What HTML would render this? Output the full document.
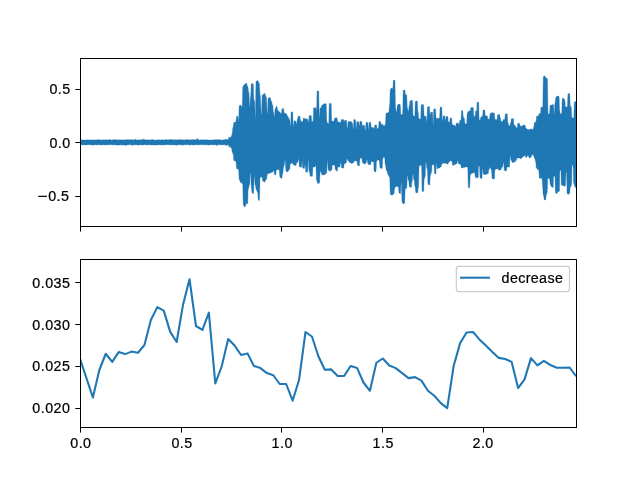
<!DOCTYPE html>
<html><head><meta charset="utf-8"><title>plot</title>
<style>
html,body{margin:0;padding:0;background:#fff;}
body{width:640px;height:480px;overflow:hidden;}
svg{display:block;will-change:transform;}
text{font-family:"Liberation Sans",sans-serif;font-size:14px;fill:#000;stroke:#000;stroke-width:0.22px;}
</style></head><body>
<svg width="640" height="480" viewBox="0 0 640 480">
<rect width="640" height="480" fill="#fff"/>
<defs><clipPath id="c1"><rect x="80.0" y="57.6" width="496.0" height="168.0"/></clipPath><clipPath id="c2"><rect x="80.0" y="259.2" width="496.0" height="168.0"/></clipPath></defs>
<g clip-path="url(#c1)"><path d="M80.00,139.90 L80.25,139.93 L80.50,139.95 L80.75,139.97 L81.00,140.00 L81.25,139.93 L81.50,139.85 L81.75,139.77 L82.00,139.70 L82.25,139.77 L82.50,139.85 L82.75,139.93 L83.00,140.00 L83.25,140.00 L83.50,140.00 L83.75,140.00 L84.00,140.00 L84.25,140.00 L84.50,140.00 L84.75,140.00 L85.00,140.00 L85.25,140.00 L85.50,140.00 L85.75,140.00 L86.00,140.00 L86.25,139.95 L86.50,139.90 L86.75,139.85 L87.00,139.80 L87.25,139.80 L87.50,139.80 L87.75,139.80 L88.00,139.80 L88.25,139.85 L88.50,139.90 L88.75,139.95 L89.00,140.00 L89.25,140.00 L89.50,140.00 L89.75,140.00 L90.00,140.00 L90.25,140.00 L90.50,140.00 L90.75,140.00 L91.00,140.00 L91.25,139.95 L91.50,139.90 L91.75,139.85 L92.00,139.80 L92.25,139.80 L92.50,139.80 L92.75,139.80 L93.00,139.80 L93.25,139.85 L93.50,139.90 L93.75,139.95 L94.00,140.00 L94.25,140.00 L94.50,140.00 L94.75,140.00 L95.00,140.00 L95.25,139.93 L95.50,139.85 L95.75,139.77 L96.00,139.70 L96.25,139.72 L96.50,139.75 L96.75,139.78 L97.00,139.80 L97.25,139.85 L97.50,139.90 L97.75,139.95 L98.00,140.00 L98.25,139.86 L98.50,139.72 L98.75,139.59 L99.00,139.45 L99.25,139.59 L99.50,139.72 L99.75,139.86 L100.00,140.00 L100.25,140.00 L100.50,140.00 L100.75,140.00 L101.00,140.00 L101.25,140.00 L101.50,140.00 L101.75,140.00 L102.00,140.00 L102.25,139.90 L102.50,139.80 L102.75,139.70 L103.00,139.60 L103.25,139.70 L103.50,139.80 L103.75,139.90 L104.00,140.00 L104.25,139.95 L104.50,139.90 L104.75,139.85 L105.00,139.80 L105.25,139.80 L105.50,139.80 L105.75,139.80 L106.00,139.80 L106.25,139.80 L106.50,139.80 L106.75,139.80 L107.00,139.80 L107.25,139.85 L107.50,139.90 L107.75,139.95 L108.00,140.00 L108.25,139.90 L108.50,139.80 L108.75,139.70 L109.00,139.60 L109.25,139.61 L109.50,139.47 L109.75,139.34 L110.00,139.20 L110.25,139.44 L110.50,139.68 L110.75,139.91 L111.00,140.00 L111.25,140.00 L111.50,140.00 L111.75,140.00 L112.00,140.00 L112.25,139.90 L112.50,139.80 L112.75,139.70 L113.00,139.60 L113.25,139.65 L113.50,139.70 L113.75,139.75 L114.00,139.80 L114.25,139.71 L114.50,139.62 L114.75,139.54 L115.00,139.45 L115.25,139.54 L115.50,139.62 L115.75,139.71 L116.00,139.80 L116.25,139.80 L116.50,139.80 L116.75,139.80 L117.00,139.80 L117.25,139.85 L117.50,139.90 L117.75,139.95 L118.00,140.00 L118.25,139.93 L118.50,139.85 L118.75,139.77 L119.00,139.70 L119.25,139.77 L119.50,139.85 L119.75,139.93 L120.00,140.00 L120.25,139.95 L120.50,139.90 L120.75,139.85 L121.00,139.80 L121.25,139.75 L121.50,139.70 L121.75,139.65 L122.00,139.60 L122.25,139.70 L122.50,139.80 L122.75,139.90 L123.00,140.00 L123.25,139.97 L123.50,139.95 L123.75,139.93 L124.00,139.90 L124.25,139.85 L124.50,139.80 L124.75,139.75 L125.00,139.70 L125.25,139.77 L125.50,139.85 L125.75,139.93 L126.00,140.00 L126.25,139.86 L126.50,139.72 L126.75,139.59 L127.00,139.45 L127.25,139.49 L127.50,139.52 L127.75,139.56 L128.00,139.60 L128.25,139.65 L128.50,139.70 L128.75,139.75 L129.00,139.80 L129.25,139.75 L129.50,139.70 L129.75,139.65 L130.00,139.60 L130.25,139.65 L130.50,139.70 L130.75,139.75 L131.00,139.80 L131.25,139.78 L131.50,139.75 L131.75,139.72 L132.00,139.70 L132.25,139.70 L132.50,139.70 L132.75,139.70 L133.00,139.70 L133.25,139.77 L133.50,139.85 L133.75,139.93 L134.00,140.00 L134.25,139.90 L134.50,139.80 L134.75,139.66 L135.00,139.34 L135.25,139.17 L135.50,139.00 L135.75,139.27 L136.00,139.54 L136.25,139.81 L136.50,139.90 L136.75,139.95 L137.00,140.00 L137.25,140.00 L137.50,140.00 L137.75,140.00 L138.00,140.00 L138.25,139.95 L138.50,139.90 L138.75,139.85 L139.00,139.80 L139.25,139.80 L139.50,139.80 L139.75,139.80 L140.00,139.80 L140.25,139.80 L140.50,139.80 L140.75,139.80 L141.00,139.80 L141.25,139.83 L141.50,139.85 L141.75,139.88 L142.00,139.90 L142.25,139.74 L142.50,139.41 L142.75,139.08 L143.00,138.75 L143.25,139.01 L143.50,139.26 L143.75,139.52 L144.00,139.60 L144.25,139.56 L144.50,139.52 L144.75,139.49 L145.00,139.45 L145.25,139.59 L145.50,139.72 L145.75,139.86 L146.00,140.00 L146.25,140.00 L146.50,140.00 L146.75,140.00 L147.00,140.00 L147.25,139.90 L147.50,139.80 L147.75,139.70 L148.00,139.60 L148.25,139.70 L148.50,139.80 L148.75,139.90 L149.00,140.00 L149.25,139.97 L149.50,139.95 L149.75,139.93 L150.00,139.90 L150.25,139.82 L150.50,139.75 L150.75,139.68 L151.00,139.60 L151.25,139.65 L151.50,139.70 L151.75,139.75 L152.00,139.80 L152.25,139.71 L152.50,139.62 L152.75,139.54 L153.00,139.45 L153.25,139.59 L153.50,139.72 L153.75,139.86 L154.00,140.00 L154.25,140.00 L154.50,140.00 L154.75,140.00 L155.00,140.00 L155.25,140.00 L155.50,140.00 L155.75,140.00 L156.00,140.00 L156.25,140.00 L156.50,140.00 L156.75,140.00 L157.00,140.00 L157.25,139.93 L157.50,139.85 L157.75,139.77 L158.00,139.70 L158.25,139.72 L158.50,139.75 L158.75,139.78 L159.00,139.80 L159.25,139.83 L159.50,139.85 L159.75,139.88 L160.00,139.90 L160.25,139.90 L160.50,139.90 L160.75,139.90 L161.00,139.90 L161.25,139.82 L161.50,139.75 L161.75,139.68 L162.00,139.60 L162.25,139.65 L162.50,139.70 L162.75,139.75 L163.00,139.80 L163.25,139.85 L163.50,139.90 L163.75,139.95 L164.00,140.00 L164.25,139.95 L164.50,139.90 L164.75,139.85 L165.00,139.80 L165.25,139.75 L165.50,139.70 L165.75,139.65 L166.00,139.60 L166.25,139.60 L166.50,139.60 L166.75,139.60 L167.00,139.60 L167.25,139.65 L167.50,139.70 L167.75,139.75 L168.00,139.80 L168.25,139.80 L168.50,139.80 L168.75,139.80 L169.00,139.80 L169.25,139.75 L169.50,139.70 L169.75,139.65 L170.00,139.60 L170.25,139.56 L170.50,139.52 L170.75,139.49 L171.00,139.45 L171.25,139.45 L171.50,139.45 L171.75,139.45 L172.00,139.45 L172.25,139.59 L172.50,139.72 L172.75,139.86 L173.00,140.00 L173.25,139.93 L173.50,139.85 L173.75,139.77 L174.00,139.70 L174.25,139.67 L174.50,139.65 L174.75,139.62 L175.00,139.60 L175.25,139.70 L175.50,139.80 L175.75,139.90 L176.00,140.00 L176.25,139.95 L176.50,139.90 L176.75,139.85 L177.00,139.80 L177.25,139.75 L177.50,139.70 L177.75,139.65 L178.00,139.60 L178.25,139.68 L178.50,139.75 L178.75,139.82 L179.00,139.90 L179.25,139.82 L179.50,139.75 L179.75,139.68 L180.00,139.60 L180.25,139.60 L180.50,139.60 L180.75,139.60 L181.00,139.60 L181.25,139.65 L181.50,139.70 L181.75,139.75 L182.00,139.80 L182.25,139.80 L182.50,139.80 L182.75,139.80 L183.00,139.80 L183.25,139.85 L183.50,139.90 L183.75,139.95 L184.00,140.00 L184.25,140.00 L184.50,140.00 L184.75,140.00 L185.00,140.00 L185.25,139.86 L185.50,139.72 L185.75,139.59 L186.00,139.45 L186.25,139.49 L186.50,139.52 L186.75,139.56 L187.00,139.60 L187.25,139.65 L187.50,139.70 L187.75,139.75 L188.00,139.80 L188.25,139.75 L188.50,139.70 L188.75,139.65 L189.00,139.60 L189.25,139.65 L189.50,139.70 L189.75,139.75 L190.00,139.80 L190.25,139.85 L190.50,139.90 L190.75,139.95 L191.00,140.00 L191.25,139.86 L191.50,139.72 L191.75,139.59 L192.00,139.45 L192.25,139.54 L192.50,139.62 L192.75,139.71 L193.00,139.80 L193.25,139.71 L193.50,139.62 L193.75,139.54 L194.00,139.45 L194.25,139.59 L194.50,139.72 L194.75,139.86 L195.00,140.00 L195.25,139.90 L195.50,139.80 L195.75,139.70 L196.00,139.60 L196.25,139.60 L196.50,139.44 L196.75,139.03 L197.00,138.62 L197.25,138.34 L197.50,138.71 L197.75,139.08 L198.00,139.45 L198.25,139.59 L198.50,139.72 L198.75,139.86 L199.00,140.00 L199.25,140.00 L199.50,140.00 L199.75,140.00 L200.00,140.00 L200.25,139.95 L200.50,139.90 L200.75,139.85 L201.00,139.80 L201.25,139.83 L201.50,139.85 L201.75,139.88 L202.00,139.90 L202.25,139.82 L202.50,139.75 L202.75,139.68 L203.00,139.60 L203.25,139.68 L203.50,139.75 L203.75,139.82 L204.00,139.90 L204.25,139.93 L204.50,139.95 L204.75,139.97 L205.00,140.00 L205.25,139.90 L205.50,139.80 L205.75,139.70 L206.00,139.60 L206.25,139.62 L206.50,139.65 L206.75,139.67 L207.00,139.70 L207.25,139.77 L207.50,139.85 L207.75,139.93 L208.00,140.00 L208.25,140.00 L208.50,140.00 L208.75,140.00 L209.00,140.00 L209.25,140.00 L209.50,140.00 L209.75,140.00 L210.00,140.00 L210.25,140.00 L210.50,140.00 L210.75,140.00 L211.00,140.00 L211.25,140.00 L211.50,140.00 L211.75,140.00 L212.00,140.00 L212.25,140.00 L212.50,140.00 L212.75,140.00 L213.00,140.00 L213.25,139.93 L213.50,139.85 L213.75,139.77 L214.00,139.70 L214.25,139.72 L214.50,139.75 L214.75,139.78 L215.00,139.80 L215.25,139.78 L215.50,139.75 L215.75,139.72 L216.00,139.70 L216.25,139.72 L216.50,139.55 L216.75,139.38 L217.00,139.20 L217.25,139.42 L217.50,139.65 L217.75,139.88 L218.00,139.90 L218.25,139.79 L218.50,139.68 L218.75,139.56 L219.00,139.45 L219.25,139.51 L219.50,139.57 L219.75,139.64 L220.00,139.70 L220.25,139.77 L220.50,139.85 L220.75,139.93 L221.00,140.00 L221.25,139.97 L221.50,139.95 L221.75,139.93 L222.00,139.90 L222.25,139.90 L222.50,139.90 L222.75,139.90 L223.00,139.90 L223.25,139.85 L223.50,139.80 L223.75,139.75 L224.00,139.70 L224.25,139.67 L224.50,139.65 L224.75,139.62 L225.00,139.60 L225.25,139.61 L225.50,139.38 L225.75,139.14 L226.00,138.90 L226.25,139.16 L226.50,139.43 L226.75,139.69 L227.00,139.70 L227.25,139.70 L227.50,139.70 L227.75,139.70 L228.00,139.25 L228.25,139.15 L228.50,138.40 L228.75,137.53 L229.00,136.65 L229.25,136.90 L229.50,137.40 L229.75,137.90 L230.00,137.91 L230.25,137.55 L230.50,137.19 L230.75,136.82 L231.00,136.46 L231.25,136.38 L231.50,136.38 L231.75,135.06 L232.00,133.75 L232.25,133.42 L232.50,130.62 L232.75,127.83 L233.00,127.50 L233.25,126.91 L233.50,124.36 L233.75,122.50 L234.00,122.50 L234.25,122.50 L234.50,122.37 L234.75,122.22 L235.00,122.08 L235.25,121.93 L235.50,121.88 L235.75,121.88 L236.00,121.57 L236.25,119.06 L236.50,116.55 L236.75,116.25 L237.00,116.25 L237.25,116.25 L237.50,116.25 L237.75,116.25 L238.00,116.25 L238.25,119.38 L238.50,122.50 L238.75,119.08 L239.00,109.04 L239.25,105.62 L239.50,105.62 L239.75,105.42 L240.00,105.20 L240.25,105.00 L240.50,105.00 L240.75,105.00 L241.00,105.38 L241.25,105.94 L241.50,106.50 L241.75,106.88 L242.00,106.88 L242.25,105.77 L242.50,96.56 L242.75,87.35 L243.00,86.25 L243.25,86.25 L243.50,85.87 L243.75,85.31 L244.00,84.75 L244.25,84.38 L244.50,84.38 L244.75,84.38 L245.00,84.27 L245.25,83.97 L245.50,83.68 L245.75,83.38 L246.00,83.12 L246.25,83.12 L246.50,83.12 L246.75,83.57 L247.00,84.69 L247.25,85.80 L247.50,86.25 L247.75,86.25 L248.00,87.14 L248.25,89.38 L248.50,91.61 L248.75,92.50 L249.00,92.50 L249.25,98.09 L249.50,105.74 L249.75,107.50 L250.00,105.35 L250.25,99.03 L250.50,96.88 L250.75,95.33 L251.00,88.64 L251.25,83.75 L251.50,83.75 L251.75,83.75 L252.00,83.75 L252.25,83.75 L252.50,83.75 L252.75,83.75 L253.00,83.75 L253.25,83.75 L253.50,87.04 L253.75,96.71 L254.00,100.00 L254.25,100.38 L254.50,101.50 L254.75,101.88 L255.00,111.25 L255.25,120.62 L255.50,112.66 L255.75,89.22 L256.00,81.25 L256.25,81.25 L256.50,81.15 L256.75,80.98 L257.00,80.81 L257.25,80.64 L257.50,80.62 L257.75,80.62 L258.00,80.67 L258.25,81.36 L258.50,82.05 L258.75,82.73 L259.00,83.12 L259.25,83.12 L259.50,84.45 L259.75,90.18 L260.00,94.38 L260.25,94.38 L260.50,97.23 L260.75,104.38 L261.00,111.52 L261.25,114.38 L261.50,114.38 L261.75,107.16 L262.00,97.27 L262.25,95.00 L262.50,95.00 L262.75,94.99 L263.00,94.70 L263.25,94.40 L263.50,94.10 L263.75,93.80 L264.00,93.51 L264.25,93.50 L264.50,93.50 L264.75,93.50 L265.00,93.78 L265.25,94.58 L265.50,95.39 L265.75,96.19 L266.00,96.88 L266.25,96.88 L266.50,96.88 L266.75,103.16 L267.00,111.77 L267.25,113.75 L267.50,112.91 L267.75,105.94 L268.00,98.96 L268.25,98.12 L268.50,98.12 L268.75,98.07 L269.00,97.92 L269.25,97.78 L269.50,97.63 L269.75,97.50 L270.00,97.50 L270.25,97.50 L270.50,98.04 L270.75,99.38 L271.00,100.71 L271.25,101.25 L271.50,101.25 L271.75,101.79 L272.00,103.12 L272.25,104.46 L272.50,105.00 L272.75,105.00 L273.00,107.79 L273.25,111.62 L273.50,112.50 L273.75,113.39 L274.00,115.99 L274.25,116.88 L274.50,115.92 L274.75,111.78 L275.00,108.75 L275.25,108.75 L275.50,108.70 L275.75,108.02 L276.00,107.33 L276.25,106.64 L276.50,106.25 L276.75,106.25 L277.00,106.25 L277.25,107.66 L277.50,109.22 L277.75,110.62 L278.00,110.62 L278.25,110.62 L278.50,110.88 L278.75,111.25 L279.00,111.62 L279.25,111.88 L279.50,111.88 L279.75,111.88 L280.00,112.25 L280.25,112.81 L280.50,113.37 L280.75,113.75 L281.00,113.75 L281.25,113.75 L281.50,112.14 L281.75,110.36 L282.00,108.75 L282.25,108.75 L282.50,108.75 L282.75,108.67 L283.00,108.58 L283.25,108.50 L283.50,108.50 L283.75,109.44 L284.00,112.19 L284.25,113.12 L284.50,113.12 L284.75,113.14 L285.00,113.27 L285.25,113.40 L285.50,113.54 L285.75,113.67 L286.00,113.75 L286.25,113.75 L286.50,113.75 L286.75,114.11 L287.00,115.00 L287.25,115.89 L287.50,116.25 L287.75,116.25 L288.00,116.25 L288.25,116.88 L288.50,117.63 L288.75,118.37 L289.00,119.11 L289.25,119.38 L289.50,119.38 L289.75,119.74 L290.00,122.81 L290.25,125.88 L290.50,126.25 L290.75,121.63 L291.00,111.88 L291.25,111.88 L291.50,111.88 L291.75,111.88 L292.00,111.88 L292.25,111.88 L292.50,111.88 L292.75,111.88 L293.00,121.63 L293.25,126.25 L293.50,126.25 L293.75,124.44 L294.00,122.43 L294.25,120.62 L294.50,120.62 L294.75,120.62 L295.00,120.83 L295.25,121.05 L295.50,121.25 L295.75,121.25 L296.00,122.05 L296.25,123.75 L296.50,123.75 L296.75,123.04 L297.00,121.25 L297.25,119.46 L297.50,118.75 L297.75,118.75 L298.00,116.25 L298.25,116.25 L298.50,116.25 L298.75,116.25 L299.00,116.25 L299.25,116.25 L299.50,116.25 L299.75,116.25 L300.00,116.25 L300.25,119.22 L300.50,120.62 L300.75,120.62 L301.00,120.73 L301.25,121.03 L301.50,121.32 L301.75,121.62 L302.00,121.88 L302.25,121.88 L302.50,121.88 L302.75,121.34 L303.00,120.00 L303.25,118.66 L303.50,118.12 L303.75,118.12 L304.00,118.12 L304.25,118.25 L304.50,118.40 L304.75,118.55 L305.00,118.70 L305.25,118.75 L305.50,118.75 L305.75,118.75 L306.00,118.77 L306.25,118.83 L306.50,118.89 L306.75,118.95 L307.00,119.00 L307.25,119.00 L307.50,119.00 L307.75,120.07 L308.00,121.54 L308.25,121.88 L308.50,121.88 L308.75,119.87 L309.00,117.63 L309.25,115.62 L309.50,115.62 L309.75,115.62 L310.00,115.62 L310.25,115.62 L310.50,115.62 L310.75,115.62 L311.00,115.62 L311.25,115.62 L311.50,117.95 L311.75,121.14 L312.00,121.88 L312.25,121.84 L312.50,121.56 L312.75,121.28 L313.00,121.25 L313.25,117.03 L313.50,108.12 L313.75,108.12 L314.00,108.11 L314.25,107.94 L314.50,107.77 L314.75,107.60 L315.00,107.50 L315.25,107.50 L315.50,107.50 L315.75,108.30 L316.00,109.20 L316.25,110.00 L316.50,110.00 L316.75,103.89 L317.00,91.00 L317.25,91.00 L317.50,91.00 L317.75,91.00 L318.00,91.00 L318.25,91.00 L318.50,91.00 L318.75,91.00 L319.00,104.25 L319.25,117.50 L319.50,117.00 L319.75,112.81 L320.00,108.63 L320.25,108.12 L320.50,108.12 L320.75,108.04 L321.00,107.38 L321.25,106.73 L321.50,106.07 L321.75,105.41 L322.00,105.00 L322.25,105.00 L322.50,105.00 L322.75,105.00 L323.00,104.75 L323.25,104.45 L323.50,104.15 L323.75,103.85 L324.00,103.75 L324.25,103.75 L324.50,103.75 L324.75,103.75 L325.00,103.75 L325.25,103.75 L325.50,103.75 L325.75,103.75 L326.00,103.75 L326.25,103.75 L326.50,110.73 L326.75,120.30 L327.00,122.50 L327.25,122.50 L327.50,122.70 L327.75,123.04 L328.00,123.38 L328.25,123.73 L328.50,123.75 L328.75,123.75 L329.00,110.01 L329.25,103.50 L329.50,103.50 L329.75,103.50 L330.00,103.50 L330.25,103.50 L330.50,103.50 L330.75,103.50 L331.00,103.50 L331.25,103.50 L331.50,115.54 L331.75,121.25 L332.00,121.25 L332.25,121.25 L332.50,121.25 L332.75,121.25 L333.00,121.25 L333.25,121.25 L333.50,121.25 L333.75,121.25 L334.00,120.80 L334.25,119.69 L334.50,118.57 L334.75,118.12 L335.00,118.12 L335.25,118.12 L335.50,118.05 L335.75,117.96 L336.00,117.87 L336.25,117.78 L336.50,117.75 L336.75,117.75 L337.00,117.75 L337.25,119.08 L337.50,120.55 L337.75,121.88 L338.00,121.88 L338.25,121.88 L338.50,121.88 L338.75,121.96 L339.00,122.08 L339.25,122.19 L339.50,122.30 L339.75,122.41 L340.00,122.50 L340.25,122.50 L340.50,122.50 L340.75,122.33 L341.00,120.94 L341.25,119.54 L341.50,119.38 L341.75,119.38 L342.00,119.38 L342.25,119.38 L342.50,119.38 L342.75,119.38 L343.00,119.38 L343.25,119.38 L343.50,119.48 L343.75,120.31 L344.00,121.15 L344.25,121.25 L344.50,120.93 L344.75,120.25 L345.00,120.25 L345.25,120.25 L345.50,120.25 L345.75,120.25 L346.00,120.25 L346.25,120.25 L346.50,120.25 L346.75,122.78 L347.00,128.12 L347.25,128.12 L347.50,127.18 L347.75,124.81 L348.00,122.45 L348.25,121.50 L348.50,121.50 L348.75,121.50 L349.00,121.50 L349.25,121.50 L349.50,121.50 L349.75,121.50 L350.00,121.50 L350.25,121.50 L350.50,121.50 L350.75,121.50 L351.00,121.50 L351.25,121.50 L351.50,121.73 L351.75,122.31 L352.00,122.89 L352.25,123.12 L352.50,123.12 L352.75,125.45 L353.00,128.64 L353.25,129.38 L353.50,126.16 L353.75,119.38 L354.00,119.38 L354.25,119.38 L354.50,119.49 L354.75,119.59 L355.00,119.69 L355.25,119.75 L355.50,119.75 L355.75,122.64 L356.00,128.75 L356.25,128.75 L356.50,126.05 L356.75,122.35 L357.00,121.50 L357.25,121.50 L357.50,121.56 L357.75,121.66 L358.00,121.76 L358.25,121.87 L358.50,121.88 L358.75,121.88 L359.00,124.84 L359.25,126.25 L359.50,125.66 L359.75,123.11 L360.00,121.25 L360.25,121.25 L360.50,121.25 L360.75,121.32 L361.00,121.39 L361.25,121.46 L361.50,121.50 L361.75,121.50 L362.00,123.03 L362.25,126.25 L362.50,126.25 L362.75,125.88 L363.00,125.37 L363.25,125.25 L363.50,125.25 L363.75,125.25 L364.00,125.25 L364.25,125.25 L364.50,125.25 L364.75,126.34 L365.00,129.54 L365.25,130.62 L365.50,130.18 L365.75,126.44 L366.00,122.70 L366.25,122.25 L366.50,122.25 L366.75,122.30 L367.00,122.38 L367.25,122.45 L367.50,122.50 L367.75,122.50 L368.00,124.71 L368.25,129.38 L368.50,129.38 L368.75,126.72 L369.00,123.09 L369.25,122.25 L369.50,122.25 L369.75,122.25 L370.00,122.25 L370.25,122.25 L370.50,122.25 L370.75,122.25 L371.00,124.88 L371.25,127.50 L371.50,127.50 L371.75,127.50 L372.00,127.50 L372.25,127.50 L372.50,127.50 L372.75,127.50 L373.00,127.50 L373.25,127.50 L373.50,127.75 L373.75,128.12 L374.00,128.75 L374.25,128.55 L374.50,126.88 L374.75,125.20 L375.00,125.00 L375.25,125.00 L375.50,125.00 L375.75,125.00 L376.00,125.00 L376.25,125.00 L376.50,125.00 L376.75,126.21 L377.00,128.75 L377.25,128.75 L377.50,128.66 L377.75,128.44 L378.00,128.21 L378.25,128.12 L378.50,128.12 L378.75,123.63 L379.00,121.50 L379.25,121.50 L379.50,121.50 L379.75,121.50 L380.00,121.50 L380.25,121.50 L380.50,121.50 L380.75,122.08 L381.00,123.79 L381.25,124.38 L381.50,124.38 L381.75,124.38 L382.00,124.38 L382.25,124.38 L382.50,124.38 L382.75,124.38 L383.00,124.38 L383.25,124.98 L383.50,125.65 L383.75,126.25 L384.00,126.25 L384.25,126.25 L384.50,125.65 L384.75,124.98 L385.00,124.38 L385.25,124.38 L385.50,123.05 L385.75,117.32 L386.00,113.12 L386.25,113.12 L386.50,113.12 L386.75,113.10 L387.00,113.00 L387.25,112.89 L387.50,112.79 L387.75,112.68 L388.00,112.57 L388.25,112.50 L388.50,112.50 L388.75,112.50 L389.00,111.55 L389.25,107.40 L389.50,104.38 L389.75,104.38 L390.00,94.20 L390.25,89.38 L390.50,89.38 L390.75,88.97 L391.00,88.53 L391.25,88.12 L391.50,88.12 L391.75,88.12 L392.00,88.33 L392.25,88.55 L392.50,88.75 L392.75,88.75 L393.00,86.02 L393.25,80.25 L393.50,80.25 L393.75,80.25 L394.00,80.25 L394.25,80.25 L394.50,80.25 L394.75,80.25 L395.00,80.25 L395.25,94.19 L395.50,108.12 L395.75,108.33 L396.00,110.00 L396.25,111.67 L396.50,111.88 L396.75,111.51 L397.00,108.44 L397.25,105.37 L397.50,105.00 L397.75,105.00 L398.00,104.68 L398.25,104.32 L398.50,104.00 L398.75,104.00 L399.00,104.00 L399.25,104.08 L399.50,104.19 L399.75,104.30 L400.00,104.38 L400.25,104.38 L400.50,107.59 L400.75,114.38 L401.00,114.38 L401.25,114.38 L401.50,114.38 L401.75,114.38 L402.00,114.38 L402.25,114.38 L402.50,114.38 L402.75,109.44 L403.00,94.93 L403.25,90.00 L403.50,90.00 L403.75,90.00 L404.00,90.00 L404.25,90.00 L404.50,90.00 L404.75,90.00 L405.00,90.89 L405.25,93.49 L405.50,94.38 L405.75,94.38 L406.00,94.58 L406.25,94.80 L406.50,95.00 L406.75,95.00 L407.00,101.25 L407.25,107.50 L407.50,107.51 L407.75,109.00 L408.00,110.49 L408.25,111.25 L408.50,111.25 L408.75,109.15 L409.00,106.29 L409.25,105.62 L409.50,105.36 L409.75,103.12 L410.00,100.89 L410.25,100.62 L410.50,100.62 L410.75,100.62 L411.00,100.62 L411.25,100.62 L411.50,100.62 L411.75,100.62 L412.00,100.62 L412.25,100.62 L412.50,100.62 L412.75,105.45 L413.00,115.62 L413.25,115.62 L413.50,115.64 L413.75,115.81 L414.00,115.98 L414.25,116.15 L414.50,116.25 L414.75,116.25 L415.00,108.75 L415.25,101.25 L415.50,101.25 L415.75,101.24 L416.00,101.18 L416.25,101.12 L416.50,101.07 L416.75,101.01 L417.00,101.00 L417.25,101.00 L417.50,103.20 L417.75,109.67 L418.00,111.88 L418.25,112.24 L418.50,115.31 L418.75,118.38 L419.00,118.75 L419.25,118.75 L419.50,118.88 L419.75,119.06 L420.00,119.25 L420.25,119.38 L420.50,119.38 L420.75,116.42 L421.00,107.71 L421.25,104.75 L421.50,104.75 L421.75,104.75 L422.00,104.70 L422.25,104.65 L422.50,104.60 L422.75,104.55 L423.00,104.50 L423.25,104.50 L423.50,104.50 L423.75,106.88 L424.00,113.87 L424.25,116.25 L424.50,116.25 L424.75,116.25 L425.00,116.25 L425.25,116.25 L425.50,116.25 L425.75,116.25 L426.00,116.25 L426.25,118.35 L426.50,121.21 L426.75,121.88 L427.00,118.84 L427.25,109.91 L427.50,106.88 L427.75,106.88 L428.00,106.84 L428.25,106.75 L428.50,106.67 L428.75,106.58 L429.00,106.50 L429.25,106.50 L429.50,106.50 L429.75,112.27 L430.00,115.00 L430.25,114.68 L430.50,113.27 L430.75,112.25 L431.00,112.25 L431.25,112.25 L431.50,112.18 L431.75,112.11 L432.00,112.04 L432.25,112.00 L432.50,112.00 L432.75,115.98 L433.00,124.38 L433.25,124.38 L433.50,113.94 L433.75,109.00 L434.00,109.00 L434.25,108.97 L434.50,108.91 L434.75,108.84 L435.00,108.78 L435.25,108.75 L435.50,108.75 L435.75,111.76 L436.00,118.12 L436.25,118.12 L436.50,118.13 L436.75,118.24 L437.00,118.34 L437.25,118.44 L437.50,118.50 L437.75,118.50 L438.00,118.50 L438.25,118.47 L438.50,118.38 L438.75,118.29 L439.00,118.20 L439.25,118.12 L439.50,118.12 L439.75,115.92 L440.00,107.25 L440.25,107.25 L440.50,107.22 L440.75,107.16 L441.00,107.09 L441.25,107.03 L441.50,107.00 L441.75,107.00 L442.00,111.58 L442.25,121.25 L442.50,121.25 L442.75,119.80 L443.00,117.45 L443.25,116.00 L443.50,116.00 L443.75,115.96 L444.00,115.84 L444.25,115.72 L444.50,115.62 L444.75,115.62 L445.00,118.12 L445.25,120.62 L445.50,120.40 L445.75,118.56 L446.00,116.72 L446.25,116.50 L446.50,116.50 L446.75,116.45 L447.00,116.38 L447.25,116.30 L447.50,116.25 L447.75,116.25 L448.00,118.06 L448.25,121.88 L448.50,121.88 L448.75,121.88 L449.00,121.99 L449.25,122.09 L449.50,122.19 L449.75,122.25 L450.00,118.12 L450.25,118.12 L450.50,118.05 L450.75,117.94 L451.00,117.83 L451.25,117.75 L451.50,117.75 L451.75,119.17 L452.00,123.33 L452.25,124.75 L452.50,124.75 L452.75,124.76 L453.00,124.87 L453.25,124.97 L453.50,125.08 L453.75,125.18 L454.00,125.25 L454.25,125.25 L454.50,125.25 L454.75,125.39 L455.00,125.75 L455.25,126.11 L455.50,126.25 L455.75,126.25 L456.00,125.09 L456.25,123.49 L456.50,123.12 L456.75,123.12 L457.00,123.12 L457.25,123.12 L457.50,123.12 L457.75,123.12 L458.00,123.12 L458.25,123.12 L458.50,123.73 L458.75,124.56 L459.00,124.75 L459.25,123.92 L459.50,121.46 L459.75,120.62 L460.00,120.62 L460.25,120.42 L460.50,120.20 L460.75,120.00 L461.00,120.00 L461.25,115.31 L461.50,110.62 L461.75,110.62 L462.00,110.62 L462.25,110.62 L462.50,110.62 L462.75,110.62 L463.00,113.75 L463.25,116.88 L463.50,116.88 L463.75,117.53 L464.00,118.17 L464.25,118.50 L464.50,118.50 L464.75,122.06 L465.00,123.75 L465.25,123.75 L465.50,123.80 L465.75,123.88 L466.00,123.95 L466.25,124.00 L466.50,124.00 L466.75,121.80 L467.00,115.33 L467.25,113.12 L467.50,113.12 L467.75,112.52 L468.00,111.85 L468.25,111.25 L468.50,111.25 L468.75,111.25 L469.00,111.20 L469.25,111.12 L469.50,111.05 L469.75,111.00 L470.00,111.00 L470.25,110.81 L470.50,109.25 L470.75,107.69 L471.00,107.50 L471.25,107.50 L471.50,107.50 L471.75,107.50 L472.00,107.50 L472.25,107.50 L472.50,107.50 L472.75,107.50 L473.00,107.50 L473.25,107.50 L473.50,110.99 L473.75,115.77 L474.00,116.88 L474.25,116.84 L474.50,116.56 L474.75,116.28 L475.00,116.25 L475.25,114.64 L475.50,111.25 L475.75,111.25 L476.00,111.20 L476.25,111.10 L476.50,111.00 L476.75,111.00 L477.00,102.25 L477.25,102.25 L477.50,102.25 L477.75,102.25 L478.00,102.25 L478.25,102.25 L478.50,102.25 L478.75,102.25 L479.00,116.41 L479.25,120.00 L479.50,120.00 L479.75,120.00 L480.00,120.00 L480.25,119.83 L480.50,118.44 L480.75,117.04 L481.00,116.88 L481.25,116.88 L481.50,116.75 L481.75,116.56 L482.00,116.38 L482.25,116.25 L482.50,116.25 L482.75,114.24 L483.00,110.00 L483.25,110.00 L483.50,110.00 L483.75,110.00 L484.00,110.00 L484.25,110.00 L484.50,110.00 L484.75,110.00 L485.00,112.81 L485.25,115.62 L485.50,115.62 L485.75,115.65 L486.00,115.73 L486.25,115.81 L486.50,115.90 L486.75,115.98 L487.00,116.00 L487.25,116.00 L487.50,116.40 L487.75,118.12 L488.00,119.38 L488.25,119.38 L488.50,119.29 L488.75,119.06 L489.00,118.84 L489.25,118.75 L489.50,118.75 L489.75,116.79 L490.00,114.12 L490.25,113.50 L490.50,113.50 L490.75,113.38 L491.00,113.18 L491.25,112.97 L491.50,112.76 L491.75,112.75 L492.00,112.75 L492.25,112.75 L492.50,112.76 L492.75,112.81 L493.00,112.85 L493.25,112.90 L493.50,112.94 L493.75,112.99 L494.00,113.00 L494.25,113.00 L494.50,113.00 L494.75,117.33 L495.00,119.38 L495.25,119.38 L495.50,119.41 L495.75,119.50 L496.00,119.58 L496.25,119.67 L496.50,119.75 L496.75,119.75 L497.00,119.75 L497.25,117.89 L497.50,115.34 L497.75,114.75 L498.00,114.75 L498.25,114.72 L498.50,114.66 L498.75,114.59 L499.00,114.53 L499.25,114.50 L499.50,114.50 L499.75,115.16 L500.00,117.09 L500.25,117.75 L500.50,118.46 L500.75,120.54 L501.00,121.25 L501.25,121.25 L501.50,121.30 L501.75,121.38 L502.00,121.45 L502.25,121.50 L502.50,121.50 L502.75,121.39 L503.00,120.44 L503.25,119.49 L503.50,119.38 L503.75,119.38 L504.00,119.38 L504.25,119.38 L504.50,119.38 L504.75,119.38 L505.00,116.69 L505.25,114.00 L505.50,114.00 L505.75,113.99 L506.00,113.93 L506.25,113.88 L506.50,113.82 L506.75,113.76 L507.00,113.75 L507.25,113.75 L507.50,118.00 L507.75,122.25 L508.00,122.40 L508.25,123.62 L508.50,124.85 L508.75,125.00 L509.00,125.05 L509.25,125.50 L509.50,125.95 L509.75,126.00 L510.00,125.66 L510.25,124.20 L510.50,123.12 L510.75,123.12 L511.00,121.50 L511.25,119.26 L511.50,118.75 L511.75,118.75 L512.00,118.73 L512.25,118.67 L512.50,118.61 L512.75,118.55 L513.00,118.50 L513.25,118.50 L513.50,118.50 L513.75,122.74 L514.00,124.75 L514.25,124.75 L514.50,124.95 L514.75,125.29 L515.00,125.63 L515.25,125.98 L515.50,126.00 L515.75,126.00 L516.00,128.12 L516.25,128.12 L516.50,127.92 L516.75,127.70 L517.00,127.50 L517.25,127.50 L517.50,126.09 L517.75,123.12 L518.00,123.12 L518.25,123.13 L518.50,123.24 L518.75,123.34 L519.00,123.44 L519.25,123.50 L519.50,123.50 L519.75,123.82 L520.00,125.23 L520.25,126.25 L520.50,126.25 L520.75,126.25 L521.00,126.20 L521.25,126.14 L521.50,126.08 L521.75,126.02 L522.00,126.00 L522.25,126.00 L522.50,125.95 L522.75,125.50 L523.00,125.05 L523.25,125.00 L523.50,125.00 L523.75,125.03 L524.00,125.09 L524.25,125.16 L524.50,125.22 L524.75,125.25 L525.00,125.25 L525.25,125.42 L525.50,126.88 L525.75,128.33 L526.00,128.50 L526.25,128.50 L526.50,128.57 L526.75,128.78 L527.00,128.99 L527.25,129.20 L527.50,129.38 L527.75,129.38 L528.00,129.38 L528.25,129.38 L528.50,129.38 L528.75,129.38 L529.00,129.38 L529.25,129.38 L529.50,129.38 L529.75,129.38 L530.00,129.38 L530.25,129.25 L530.50,129.12 L530.75,129.00 L531.00,129.00 L531.25,129.00 L531.50,129.06 L531.75,129.24 L532.00,129.42 L532.25,129.60 L532.50,129.75 L532.75,129.75 L533.00,129.75 L533.25,128.22 L533.50,127.50 L533.75,127.23 L534.00,125.00 L534.25,122.77 L534.50,122.50 L534.75,122.50 L535.00,122.37 L535.25,122.19 L535.50,122.00 L535.75,121.88 L536.00,121.88 L536.25,120.07 L536.50,116.25 L536.75,116.25 L537.00,116.25 L537.25,116.18 L537.50,116.11 L537.75,116.04 L538.00,116.00 L538.25,116.00 L538.50,115.74 L538.75,114.59 L539.00,113.75 L539.25,113.75 L539.50,113.71 L539.75,113.62 L540.00,113.54 L540.25,113.50 L540.50,113.50 L540.75,109.26 L541.00,107.25 L541.25,107.25 L541.50,107.22 L541.75,107.16 L542.00,107.09 L542.25,107.03 L542.50,107.00 L542.75,107.00 L543.00,91.75 L543.25,76.50 L543.50,76.50 L543.75,76.40 L544.00,76.25 L544.25,76.10 L544.50,76.00 L544.75,76.00 L545.00,76.00 L545.25,76.68 L545.50,77.44 L545.75,78.12 L546.00,78.12 L546.25,78.12 L546.50,78.20 L546.75,78.31 L547.00,78.42 L547.25,78.50 L547.50,78.50 L547.75,96.12 L548.00,113.75 L548.25,113.75 L548.50,113.80 L548.75,113.88 L549.00,113.95 L549.25,114.00 L549.50,114.00 L549.75,109.81 L550.00,105.62 L550.25,105.62 L550.50,105.53 L550.75,105.36 L551.00,105.18 L551.25,105.01 L551.50,105.00 L551.75,105.00 L552.00,105.00 L552.25,104.87 L552.50,104.72 L552.75,104.58 L553.00,104.43 L553.25,104.38 L553.50,104.38 L553.75,107.39 L554.00,113.75 L554.25,113.75 L554.50,109.79 L554.75,104.37 L555.00,103.12 L555.25,101.99 L555.50,98.64 L555.75,97.50 L556.00,97.50 L556.25,97.20 L556.50,96.75 L556.75,96.30 L557.00,96.00 L557.25,96.00 L557.50,96.00 L557.75,96.02 L558.00,96.08 L558.25,96.14 L558.50,96.20 L558.75,96.25 L559.00,96.25 L559.25,98.91 L559.50,109.38 L559.75,109.89 L560.00,112.12 L560.25,113.75 L560.50,113.75 L560.75,113.75 L561.00,113.75 L561.25,113.75 L561.50,113.75 L561.75,113.75 L562.00,103.40 L562.25,98.50 L562.50,98.50 L562.75,98.42 L563.00,98.33 L563.25,98.25 L563.50,98.25 L563.75,98.25 L564.00,98.73 L564.25,99.27 L564.50,99.75 L564.75,99.75 L565.00,101.19 L565.25,105.43 L565.50,106.88 L565.75,106.88 L566.00,106.88 L566.25,106.88 L566.50,106.88 L566.75,106.88 L567.00,106.88 L567.25,106.88 L567.50,104.22 L567.75,96.41 L568.00,93.75 L568.25,93.75 L568.50,93.72 L568.75,93.66 L569.00,93.59 L569.25,93.53 L569.50,93.50 L569.75,93.50 L570.00,99.88 L570.25,106.25 L570.50,106.26 L570.75,106.38 L571.00,106.49 L571.25,106.50 L571.50,110.04 L571.75,117.50 L572.00,117.50 L572.25,117.50 L572.50,117.63 L572.75,117.78 L573.00,117.92 L573.25,118.07 L573.50,118.12 L573.75,118.12 L574.00,110.19 L574.25,102.25 L574.50,102.25 L574.75,102.13 L575.00,101.88 L575.25,101.62 L575.50,101.37 L575.75,101.25 L576.00,101.25 L576.25,101.25 L576.50,101.25 L576.75,101.25 L576.75,188.12 L576.50,188.12 L576.25,188.12 L576.00,188.12 L575.75,188.12 L575.50,187.52 L575.25,186.85 L575.00,186.25 L574.75,186.25 L574.50,186.25 L574.25,185.04 L574.00,183.71 L573.75,182.50 L573.50,182.50 L573.25,169.04 L573.00,165.62 L572.75,165.50 L572.50,165.25 L572.25,165.00 L572.00,165.00 L571.75,181.45 L571.50,185.62 L571.25,185.74 L571.00,186.15 L570.75,186.55 L570.50,186.88 L570.25,186.88 L570.00,190.00 L569.75,193.12 L569.50,193.19 L569.25,193.75 L569.00,194.31 L568.75,194.38 L568.50,194.38 L568.25,194.28 L568.00,194.11 L567.75,193.93 L567.50,193.76 L567.25,193.75 L567.00,193.75 L566.75,178.91 L566.50,171.88 L566.25,171.88 L566.00,171.88 L565.75,178.75 L565.50,185.62 L565.25,185.86 L565.00,186.18 L564.75,186.25 L564.50,186.25 L564.25,186.20 L564.00,186.05 L563.75,185.90 L563.50,185.75 L563.25,185.62 L563.00,185.62 L562.75,185.62 L562.50,185.61 L562.25,185.44 L562.00,185.27 L561.75,185.10 L561.50,185.00 L561.25,185.00 L561.00,170.62 L560.75,170.62 L560.50,170.62 L560.25,170.62 L560.00,170.62 L559.75,174.80 L559.50,191.25 L559.25,191.25 L559.00,191.29 L558.75,191.36 L558.50,191.43 L558.25,191.50 L558.00,191.50 L557.75,191.50 L557.50,192.24 L557.25,193.27 L557.00,193.50 L556.75,193.50 L556.50,193.44 L556.25,193.34 L556.00,193.24 L555.75,193.13 L555.50,193.12 L555.25,189.71 L555.00,176.25 L554.75,176.25 L554.50,176.25 L554.25,176.25 L554.00,176.25 L553.75,176.25 L553.50,178.53 L553.25,187.50 L553.00,187.50 L552.75,187.40 L552.50,187.23 L552.25,187.06 L552.00,186.89 L551.75,186.88 L551.50,186.88 L551.25,186.61 L551.00,185.94 L550.75,185.27 L550.50,185.00 L550.25,185.00 L550.00,182.67 L549.75,179.48 L549.50,178.75 L549.25,178.75 L549.00,178.65 L548.75,178.48 L548.50,178.31 L548.25,178.14 L548.00,178.12 L547.75,178.12 L547.50,187.88 L547.25,192.50 L547.00,192.63 L546.75,193.75 L546.50,194.87 L546.25,195.00 L546.00,197.38 L545.75,199.75 L545.50,199.75 L545.25,199.83 L545.00,199.92 L544.75,200.00 L544.50,200.00 L544.25,200.00 L544.00,198.39 L543.75,196.61 L543.50,195.00 L543.25,195.00 L543.00,193.23 L542.75,188.02 L542.50,186.25 L542.25,182.00 L542.00,177.75 L541.75,177.79 L541.50,178.12 L541.25,178.46 L541.00,178.50 L540.75,178.50 L540.50,178.46 L540.25,178.36 L540.00,178.26 L539.75,178.17 L539.50,178.12 L539.25,178.12 L539.00,174.06 L538.75,170.00 L538.50,169.93 L538.25,169.61 L538.00,169.38 L537.75,169.38 L537.50,169.35 L537.25,169.01 L537.00,168.66 L536.75,168.32 L536.50,168.12 L536.25,168.12 L536.00,165.00 L535.75,161.88 L535.50,161.71 L535.25,160.31 L535.00,158.92 L534.75,158.75 L534.50,158.75 L534.25,157.75 L534.00,156.63 L533.75,155.62 L533.50,155.62 L533.25,155.62 L533.00,155.37 L532.75,155.00 L532.50,154.63 L532.25,154.38 L532.00,154.38 L531.75,154.88 L531.50,156.37 L531.25,156.88 L531.00,156.88 L530.75,157.13 L530.50,157.50 L530.25,157.87 L530.00,158.12 L529.75,158.12 L529.50,158.12 L529.25,157.92 L529.00,157.32 L528.75,156.73 L528.50,156.13 L528.25,155.62 L528.00,155.62 L527.75,155.62 L527.50,155.66 L527.25,156.18 L527.00,156.69 L526.75,157.21 L526.50,157.50 L526.25,157.50 L526.00,157.50 L525.75,157.12 L525.50,156.56 L525.25,156.00 L525.00,155.62 L524.75,155.62 L524.50,155.62 L524.25,155.73 L524.00,156.03 L523.75,156.32 L523.50,156.62 L523.25,156.88 L523.00,156.88 L522.75,156.88 L522.50,156.88 L522.25,157.25 L522.00,157.70 L521.75,158.15 L521.50,158.59 L521.25,158.75 L521.00,158.75 L520.75,158.75 L520.50,158.70 L520.25,158.55 L520.00,158.40 L519.75,158.25 L519.50,158.12 L519.25,158.12 L519.00,158.12 L518.75,158.12 L518.50,158.12 L518.25,158.12 L518.00,158.12 L517.75,158.12 L517.50,158.12 L517.25,158.12 L517.00,158.12 L516.75,158.93 L516.50,159.82 L516.25,160.62 L516.00,160.62 L515.75,158.91 L515.50,160.47 L515.25,161.88 L515.00,161.88 L514.75,161.88 L514.50,161.88 L514.25,161.96 L514.00,162.08 L513.75,162.19 L513.50,162.30 L513.25,162.41 L513.00,162.50 L512.75,162.50 L512.50,162.50 L512.25,162.50 L512.00,161.90 L511.75,161.23 L511.50,160.62 L511.25,160.62 L511.00,160.39 L510.75,158.44 L510.50,156.48 L510.25,156.25 L510.00,157.54 L509.75,163.15 L509.50,167.25 L509.25,167.25 L509.00,167.25 L508.75,167.20 L508.50,167.12 L508.25,167.04 L508.00,166.96 L507.75,166.89 L507.50,166.88 L507.25,166.88 L507.00,167.10 L506.75,168.94 L506.50,170.78 L506.25,171.00 L506.00,171.00 L505.75,170.97 L505.50,170.88 L505.25,170.79 L505.00,170.70 L504.75,170.62 L504.50,170.62 L504.25,170.62 L504.00,167.60 L503.75,163.45 L503.50,162.50 L503.25,162.73 L503.00,164.69 L502.75,166.64 L502.50,166.88 L502.25,166.88 L502.00,167.11 L501.75,167.80 L501.50,168.48 L501.25,169.17 L501.00,169.75 L500.75,169.75 L500.50,169.75 L500.25,169.76 L500.00,169.90 L499.75,170.03 L499.50,170.17 L499.25,170.25 L499.00,170.25 L498.75,170.25 L498.50,169.95 L498.25,169.50 L498.00,169.05 L497.75,168.75 L497.50,168.75 L497.25,168.75 L497.00,168.75 L496.75,168.84 L496.50,168.95 L496.25,169.06 L496.00,169.17 L495.75,169.29 L495.50,169.38 L495.25,169.38 L495.00,169.38 L494.75,172.47 L494.50,179.00 L494.25,179.00 L494.00,179.00 L493.75,178.97 L493.50,178.91 L493.25,178.86 L493.00,178.81 L492.75,178.76 L492.50,178.75 L492.25,178.75 L492.00,178.25 L491.75,174.06 L491.50,169.88 L491.25,169.38 L491.00,169.38 L490.75,168.77 L490.50,168.10 L490.25,167.50 L490.00,167.50 L489.75,167.60 L489.50,168.44 L489.25,169.27 L489.00,169.38 L488.75,169.89 L488.50,172.12 L488.25,173.75 L488.00,173.75 L487.75,173.75 L487.50,173.78 L487.25,173.90 L487.00,174.01 L486.75,174.12 L486.50,174.23 L486.25,174.34 L486.00,174.38 L485.75,174.38 L485.50,174.38 L485.25,174.38 L485.00,174.38 L484.75,174.38 L484.50,174.38 L484.25,174.38 L484.00,174.38 L483.75,174.38 L483.50,174.38 L483.25,174.07 L483.00,171.56 L482.75,169.05 L482.50,168.75 L482.25,171.88 L482.00,178.50 L481.75,178.50 L481.50,178.50 L481.25,178.41 L481.00,178.31 L480.75,178.22 L480.50,178.12 L480.25,178.12 L480.00,178.12 L479.75,172.19 L479.50,166.25 L479.25,166.25 L479.00,166.25 L478.75,166.25 L478.50,166.87 L478.25,177.13 L478.00,177.75 L477.75,177.75 L477.50,177.74 L477.25,177.69 L477.00,177.65 L476.75,177.60 L476.50,177.56 L476.25,177.51 L476.00,177.50 L475.75,177.50 L475.50,177.50 L475.25,176.79 L475.00,175.00 L474.75,173.21 L474.50,172.50 L474.25,172.50 L474.00,172.50 L473.75,172.63 L473.50,172.78 L473.25,172.92 L473.00,173.07 L472.75,173.12 L472.50,173.12 L472.25,173.12 L472.00,173.13 L471.75,173.38 L471.50,173.63 L471.25,173.87 L471.00,174.12 L470.75,174.37 L470.50,174.38 L470.25,174.38 L470.00,181.06 L469.75,187.75 L469.50,187.75 L469.25,187.70 L469.00,187.62 L468.75,187.55 L468.50,187.50 L468.25,187.50 L468.00,177.38 L467.75,167.25 L467.50,167.25 L467.25,167.17 L467.00,167.06 L466.75,166.95 L466.50,166.88 L466.25,166.88 L466.00,166.88 L465.75,166.88 L465.50,166.96 L465.25,167.08 L465.00,167.19 L464.75,167.30 L464.50,167.41 L464.25,167.50 L464.00,167.50 L463.75,167.50 L463.50,167.50 L463.25,167.50 L463.00,167.63 L462.75,167.75 L462.50,167.87 L462.25,168.00 L462.00,168.12 L461.75,168.12 L461.50,168.12 L461.25,167.68 L461.00,165.77 L460.75,164.38 L460.50,164.38 L460.25,164.38 L460.00,164.25 L459.75,164.10 L459.50,163.95 L459.25,163.80 L459.00,163.75 L458.75,163.75 L458.50,163.75 L458.25,162.75 L458.00,161.63 L457.75,160.62 L457.50,160.62 L457.25,161.63 L457.00,163.75 L456.75,163.75 L456.50,163.75 L456.25,163.88 L456.00,164.03 L455.75,164.17 L455.50,164.32 L455.25,164.38 L455.00,164.38 L454.75,164.38 L454.50,164.38 L454.25,164.63 L454.00,164.88 L453.75,165.12 L453.50,165.37 L453.25,165.62 L453.00,165.62 L452.75,165.62 L452.50,165.11 L452.25,162.88 L452.00,161.25 L451.75,161.25 L451.50,161.25 L451.25,161.12 L451.00,160.97 L450.75,160.83 L450.50,160.68 L450.25,160.62 L450.00,160.62 L449.75,161.67 L449.50,161.82 L449.25,161.88 L449.00,161.88 L448.75,161.88 L448.50,162.56 L448.25,163.32 L448.00,164.00 L447.75,164.00 L447.50,164.00 L447.25,163.96 L447.00,163.84 L446.75,163.72 L446.50,163.60 L446.25,163.50 L446.00,163.50 L445.75,163.50 L445.50,163.50 L445.25,163.42 L445.00,163.33 L444.75,163.25 L444.50,163.16 L444.25,163.12 L444.00,163.12 L443.75,163.12 L443.50,163.18 L443.25,163.33 L443.00,163.47 L442.75,163.62 L442.50,163.75 L442.25,163.75 L442.00,163.75 L441.75,164.20 L441.50,165.31 L441.25,166.43 L441.00,166.88 L440.75,166.88 L440.50,166.88 L440.25,167.13 L440.00,167.43 L439.75,167.72 L439.50,168.02 L439.25,168.12 L439.00,168.12 L438.75,168.12 L438.50,168.18 L438.25,168.33 L438.00,168.47 L437.75,168.62 L437.50,168.75 L437.25,168.75 L437.00,168.75 L436.75,164.08 L436.50,161.88 L436.25,165.69 L436.00,173.75 L435.75,173.75 L435.50,173.75 L435.25,173.75 L435.00,173.75 L434.75,173.75 L434.50,173.75 L434.25,169.06 L434.00,164.38 L433.75,164.38 L433.50,164.43 L433.25,164.58 L433.00,164.72 L432.75,164.87 L432.50,165.00 L432.25,165.00 L432.00,165.00 L431.75,170.09 L431.50,172.50 L431.25,172.63 L431.00,173.75 L430.75,174.87 L430.50,175.00 L430.25,176.17 L430.00,181.28 L429.75,185.00 L429.50,185.00 L429.25,184.97 L429.00,184.78 L428.75,184.59 L428.50,184.41 L428.25,184.38 L428.00,184.38 L427.75,180.05 L427.50,173.07 L427.25,168.75 L427.00,168.75 L426.75,168.10 L426.50,165.87 L426.25,163.64 L426.00,161.88 L425.75,161.88 L425.50,169.06 L425.25,176.25 L425.00,176.38 L424.75,177.50 L424.50,178.62 L424.25,178.75 L424.00,182.85 L423.75,191.50 L423.50,191.50 L423.25,191.49 L423.00,191.41 L422.75,191.34 L422.50,191.26 L422.25,191.25 L422.00,191.25 L421.75,173.86 L421.50,165.62 L421.25,165.62 L421.00,165.62 L420.75,165.62 L420.50,165.62 L420.25,165.62 L420.00,165.62 L419.75,165.62 L419.50,165.62 L419.25,165.62 L419.00,168.19 L418.75,179.35 L418.50,187.50 L418.25,187.50 L418.00,189.60 L417.75,192.46 L417.50,193.12 L417.25,193.12 L417.00,193.03 L416.75,192.86 L416.50,192.68 L416.25,192.51 L416.00,192.50 L415.75,192.50 L415.50,190.17 L415.25,186.98 L415.00,186.25 L414.75,185.92 L414.50,183.12 L414.25,180.33 L414.00,180.00 L413.75,179.70 L413.50,177.19 L413.25,174.68 L413.00,174.38 L412.75,175.18 L412.50,178.69 L412.25,181.25 L412.00,181.25 L411.75,183.58 L411.50,186.77 L411.25,187.50 L411.00,187.50 L410.75,187.40 L410.50,187.23 L410.25,187.06 L410.00,186.89 L409.75,186.88 L409.50,186.88 L409.25,185.89 L409.00,183.44 L408.75,180.98 L408.50,180.00 L408.25,180.00 L408.00,178.79 L407.75,176.84 L407.50,175.62 L407.25,175.62 L407.00,184.11 L406.75,188.12 L406.50,188.12 L406.25,188.25 L406.00,188.44 L405.75,188.62 L405.50,188.75 L405.25,188.75 L405.00,193.37 L404.75,203.12 L404.50,203.12 L404.25,203.25 L404.00,203.56 L403.75,203.88 L403.50,204.00 L403.25,204.00 L403.00,203.79 L402.75,203.25 L402.50,202.71 L402.25,202.50 L402.00,202.50 L401.75,196.96 L401.50,188.04 L401.25,182.50 L401.00,182.50 L400.75,190.13 L400.50,193.75 L400.25,193.75 L400.00,193.62 L399.75,193.44 L399.50,193.25 L399.25,193.12 L399.00,193.12 L398.75,191.12 L398.50,186.88 L398.25,186.88 L398.00,186.88 L397.75,186.75 L397.50,186.60 L397.25,186.45 L397.00,186.30 L396.75,186.25 L396.50,186.25 L396.25,186.25 L396.00,186.50 L395.75,186.88 L395.50,187.25 L395.25,187.50 L395.00,187.50 L394.75,187.50 L394.50,189.51 L394.25,191.74 L394.00,193.75 L393.75,193.75 L393.50,193.75 L393.25,193.98 L393.00,194.40 L392.75,194.81 L392.50,195.22 L392.25,195.25 L392.00,195.25 L391.75,195.25 L391.50,195.07 L391.25,194.86 L391.00,194.66 L390.75,194.45 L390.50,194.38 L390.25,194.38 L390.00,188.95 L389.75,177.50 L389.50,177.50 L389.25,177.14 L389.00,176.25 L388.75,175.36 L388.50,175.00 L388.25,175.00 L388.00,175.00 L387.75,174.11 L387.50,173.07 L387.25,172.03 L387.00,170.99 L386.75,170.62 L386.50,170.62 L386.25,170.62 L386.00,168.82 L385.75,166.81 L385.50,165.00 L385.25,165.00 L385.00,162.59 L384.75,157.50 L384.50,157.50 L384.25,157.50 L384.00,157.50 L383.75,157.50 L383.50,157.50 L383.25,157.50 L383.00,157.50 L382.75,158.79 L382.50,164.40 L382.25,168.50 L382.00,168.50 L381.75,168.50 L381.50,168.42 L381.25,168.33 L381.00,168.25 L380.75,168.16 L380.50,168.12 L380.25,168.12 L380.00,168.12 L379.75,165.51 L379.50,162.61 L379.25,160.00 L379.00,160.00 L378.75,160.00 L378.50,160.00 L378.25,160.13 L378.00,160.25 L377.75,160.37 L377.50,160.50 L377.25,160.62 L377.00,160.62 L376.75,160.62 L376.50,161.95 L376.25,167.68 L376.00,171.88 L375.75,171.88 L375.50,171.88 L375.25,171.75 L375.00,171.60 L374.75,171.45 L374.50,171.30 L374.25,171.25 L374.00,171.25 L373.75,162.13 L373.50,162.00 L373.25,161.88 L373.00,161.88 L372.75,161.88 L372.50,161.75 L372.25,161.56 L372.00,161.38 L371.75,161.25 L371.50,161.25 L371.25,161.44 L371.00,163.00 L370.75,164.56 L370.50,164.75 L370.25,164.75 L370.00,164.75 L369.75,164.67 L369.50,164.60 L369.25,164.53 L369.00,164.45 L368.75,164.38 L368.50,164.38 L368.25,164.38 L368.00,164.38 L367.75,162.97 L367.50,161.41 L367.25,160.00 L367.00,160.00 L366.75,160.37 L366.50,161.96 L366.25,163.12 L366.00,163.12 L365.75,163.12 L365.50,163.30 L365.25,163.51 L365.00,163.72 L364.75,163.93 L364.50,164.00 L364.25,164.00 L364.00,164.00 L363.75,163.88 L363.50,163.52 L363.25,163.16 L363.00,162.80 L362.75,162.50 L362.50,162.50 L362.25,162.50 L362.00,159.53 L361.75,158.12 L361.50,158.12 L361.25,158.12 L361.00,158.12 L360.75,158.12 L360.50,158.12 L360.25,158.12 L360.00,158.12 L359.75,161.06 L359.50,165.08 L359.25,166.00 L359.00,166.00 L358.75,165.92 L358.50,165.81 L358.25,165.70 L358.00,165.62 L357.75,165.62 L357.50,165.39 L357.25,163.44 L357.00,161.48 L356.75,161.25 L356.50,161.25 L356.25,161.20 L356.00,161.05 L355.75,160.90 L355.50,160.75 L355.25,160.62 L355.00,160.62 L354.75,160.62 L354.50,160.89 L354.25,161.56 L354.00,162.23 L353.75,162.50 L353.50,162.50 L353.25,162.50 L353.00,162.70 L352.75,162.94 L352.50,163.18 L352.25,163.42 L352.00,163.50 L351.75,163.50 L351.50,163.50 L351.25,163.42 L351.00,163.18 L350.75,162.94 L350.50,162.70 L350.25,162.50 L350.00,162.50 L349.75,162.50 L349.50,162.50 L349.25,162.12 L349.00,161.67 L348.75,161.23 L348.50,160.78 L348.25,160.62 L348.00,160.62 L347.75,160.52 L347.50,159.69 L347.25,158.85 L347.00,158.75 L346.75,159.26 L346.50,161.50 L346.25,163.12 L346.00,163.12 L345.75,163.12 L345.50,163.25 L345.25,163.40 L345.00,163.55 L344.75,163.70 L344.50,163.75 L344.25,163.75 L344.00,165.16 L343.75,168.12 L343.50,168.12 L343.25,168.12 L343.00,168.12 L342.75,168.12 L342.50,168.12 L342.25,168.12 L342.00,168.12 L341.75,168.12 L341.50,166.99 L341.25,165.31 L341.00,163.64 L340.75,162.50 L340.50,162.50 L340.25,163.91 L340.00,166.88 L339.75,166.88 L339.50,166.88 L339.25,166.88 L339.00,166.88 L338.75,166.88 L338.50,166.88 L338.25,166.88 L338.00,166.88 L337.75,168.28 L337.50,169.84 L337.25,171.25 L337.00,171.25 L336.75,171.25 L336.50,171.00 L336.25,170.62 L336.00,170.25 L335.75,170.00 L335.50,170.00 L335.25,169.73 L335.00,167.50 L334.75,165.27 L334.50,165.00 L334.25,165.00 L334.00,165.00 L333.75,165.00 L333.50,165.00 L333.25,165.00 L333.00,165.00 L332.75,165.00 L332.50,165.00 L332.25,165.00 L332.00,168.39 L331.75,170.00 L331.50,170.00 L331.25,170.10 L331.00,170.40 L330.75,170.70 L330.50,171.00 L330.25,171.25 L330.00,171.25 L329.75,171.25 L329.50,171.23 L329.25,170.88 L329.00,170.54 L328.75,170.20 L328.50,170.00 L328.25,170.00 L328.00,168.97 L327.75,164.51 L327.50,161.25 L327.25,161.25 L327.00,165.81 L326.75,172.06 L326.50,173.50 L326.25,173.50 L326.00,173.50 L325.75,173.75 L325.50,174.00 L325.25,174.25 L325.00,174.50 L324.75,174.75 L324.50,174.75 L324.25,174.75 L324.00,174.75 L323.75,174.77 L323.50,174.83 L323.25,174.89 L323.00,174.95 L322.75,175.00 L322.50,175.00 L322.25,175.00 L322.00,175.00 L321.75,174.50 L321.50,173.72 L321.25,172.93 L321.00,172.14 L320.75,171.35 L320.50,171.25 L320.25,171.25 L320.00,173.65 L319.75,180.72 L319.50,183.12 L319.25,183.12 L319.00,183.20 L318.75,183.31 L318.50,183.42 L318.25,183.50 L318.00,183.50 L317.75,183.50 L317.50,182.92 L317.25,182.06 L317.00,181.21 L316.75,180.62 L316.50,180.62 L316.25,177.46 L316.00,168.16 L315.75,165.00 L315.50,165.22 L315.25,166.18 L315.00,166.88 L314.75,166.88 L314.50,166.88 L314.25,166.88 L314.00,166.88 L313.75,166.88 L313.50,166.88 L313.25,166.88 L313.00,166.88 L312.75,169.89 L312.50,176.25 L312.25,176.25 L312.00,176.25 L311.75,176.25 L311.50,176.25 L311.25,176.25 L311.00,176.25 L310.75,176.25 L310.50,176.25 L310.25,176.25 L310.00,175.24 L309.75,173.75 L309.50,172.26 L309.25,171.25 L309.00,171.25 L308.75,168.85 L308.50,161.78 L308.25,159.38 L308.00,162.03 L307.75,169.84 L307.50,172.50 L307.25,172.50 L307.00,172.43 L306.75,172.27 L306.50,172.11 L306.25,171.95 L306.00,171.88 L305.75,171.88 L305.50,169.67 L305.25,165.00 L305.00,165.00 L304.75,166.30 L304.50,168.09 L304.25,168.50 L304.00,168.50 L303.75,168.42 L303.50,168.31 L303.25,168.20 L303.00,168.12 L302.75,168.12 L302.50,165.92 L302.25,161.25 L302.00,161.25 L301.75,165.32 L301.50,167.25 L301.25,167.25 L301.00,167.23 L300.75,167.15 L300.50,167.06 L300.25,166.98 L300.00,166.90 L299.75,166.88 L299.50,166.88 L299.25,165.92 L299.00,161.78 L298.75,158.75 L298.50,158.75 L298.25,160.45 L298.00,161.25 L297.75,162.19 L297.50,162.37 L297.25,162.50 L297.00,162.50 L296.75,162.50 L296.50,163.50 L296.25,164.62 L296.00,165.62 L295.75,165.62 L295.50,165.62 L295.25,165.57 L295.00,165.42 L294.75,165.28 L294.50,165.13 L294.25,165.00 L294.00,165.00 L293.75,165.00 L293.50,165.00 L293.25,164.62 L293.00,164.17 L292.75,163.73 L292.50,163.28 L292.25,163.12 L292.00,163.12 L291.75,163.12 L291.50,163.25 L291.25,163.44 L291.00,163.62 L290.75,163.75 L290.50,163.75 L290.25,164.05 L290.00,166.56 L289.75,169.07 L289.50,169.38 L289.25,169.38 L289.00,169.58 L288.75,170.18 L288.50,170.77 L288.25,171.37 L288.00,171.88 L287.75,171.88 L287.50,171.88 L287.25,171.86 L287.00,171.69 L286.75,171.52 L286.50,171.35 L286.25,171.25 L286.00,171.25 L285.75,170.00 L285.50,164.58 L285.25,160.62 L285.00,160.62 L284.75,161.43 L284.50,163.44 L284.25,165.45 L284.00,166.25 L283.75,166.25 L283.50,167.32 L283.25,170.00 L283.00,172.68 L282.75,173.75 L282.50,173.75 L282.25,175.52 L282.00,177.94 L281.75,178.50 L281.50,178.50 L281.25,178.34 L281.00,178.07 L280.75,177.79 L280.50,177.52 L280.25,177.50 L280.00,177.50 L279.75,176.34 L279.50,173.44 L279.25,170.54 L279.00,169.38 L278.75,169.38 L278.50,169.38 L278.25,169.41 L278.00,169.52 L277.75,169.63 L277.50,169.74 L277.25,169.85 L277.00,169.97 L276.75,170.00 L276.50,170.00 L276.25,170.00 L276.00,173.39 L275.75,175.00 L275.50,175.00 L275.25,174.80 L275.00,174.58 L274.75,174.38 L274.50,174.38 L274.25,173.17 L274.00,170.62 L273.75,170.62 L273.50,170.80 L273.25,171.25 L273.00,171.70 L272.75,171.88 L272.50,171.88 L272.25,171.88 L272.00,171.94 L271.75,172.17 L271.50,172.39 L271.25,172.61 L271.00,172.83 L270.75,173.06 L270.50,173.12 L270.25,173.12 L270.00,173.12 L269.75,173.12 L269.50,173.16 L269.25,173.27 L269.00,173.38 L268.75,173.49 L268.50,173.60 L268.25,173.72 L268.00,173.75 L267.75,173.75 L267.50,173.75 L267.25,174.55 L267.00,176.56 L266.75,178.57 L266.50,179.38 L266.25,179.38 L266.00,179.38 L265.75,179.88 L265.50,180.48 L265.25,181.07 L265.00,181.67 L264.75,181.88 L264.50,181.88 L264.25,181.88 L264.00,181.75 L263.75,181.56 L263.50,181.38 L263.25,181.25 L263.00,181.25 L262.75,181.25 L262.50,179.84 L262.25,178.28 L262.00,176.88 L261.75,176.88 L261.50,176.88 L261.25,176.97 L261.00,177.14 L260.75,177.32 L260.50,177.49 L260.25,177.50 L260.00,177.50 L259.75,193.19 L259.50,200.62 L259.25,200.62 L259.00,200.42 L258.75,200.20 L258.50,200.00 L258.25,200.00 L258.00,197.59 L257.75,192.50 L257.50,192.50 L257.25,192.14 L257.00,191.25 L256.75,190.36 L256.50,190.00 L256.25,190.00 L256.00,189.29 L255.75,187.50 L255.50,185.71 L255.25,185.00 L255.00,185.00 L254.75,181.74 L254.50,177.28 L254.25,176.25 L254.00,179.79 L253.75,190.21 L253.50,193.75 L253.25,193.75 L253.00,193.62 L252.75,193.44 L252.50,193.25 L252.25,193.12 L252.00,193.12 L251.75,191.32 L251.50,187.50 L251.25,187.50 L251.00,182.15 L250.75,174.81 L250.50,173.12 L250.25,173.76 L250.00,179.06 L249.75,184.36 L249.50,185.00 L249.25,185.00 L249.00,186.21 L248.75,187.54 L248.50,188.75 L248.25,188.75 L248.00,193.57 L247.75,203.75 L247.50,203.75 L247.25,203.75 L247.00,203.75 L246.75,203.75 L246.50,203.75 L246.25,203.75 L246.00,203.81 L245.75,204.67 L245.50,205.53 L245.25,206.39 L245.00,206.88 L244.75,206.88 L244.50,206.88 L244.25,206.50 L244.00,205.94 L243.75,205.38 L243.50,205.00 L243.25,205.00 L243.00,198.17 L242.75,183.75 L242.50,183.75 L242.25,183.75 L242.00,183.50 L241.75,183.20 L241.50,182.90 L241.25,182.60 L241.00,182.50 L240.75,182.50 L240.50,182.50 L240.25,181.99 L240.00,181.25 L239.75,180.51 L239.50,180.00 L239.25,180.00 L239.00,177.85 L238.75,171.53 L238.50,169.38 L238.25,169.38 L238.00,169.30 L237.75,169.14 L237.50,168.98 L237.25,168.82 L237.00,168.75 L236.75,168.75 L236.50,168.35 L236.25,165.00 L236.00,161.65 L235.75,161.25 L235.50,161.25 L235.25,161.20 L235.00,161.05 L234.75,160.90 L234.50,160.75 L234.25,160.62 L234.00,160.62 L233.75,160.62 L233.50,158.06 L233.25,154.56 L233.00,153.75 L232.75,153.62 L232.50,152.50 L232.25,151.38 L232.00,151.25 L231.75,149.69 L231.50,148.12 L231.25,148.12 L231.00,148.01 L230.75,147.54 L230.50,147.06 L230.25,146.59 L230.00,146.11 L229.75,146.11 L229.50,146.68 L229.25,147.24 L229.00,147.52 L228.75,146.55 L228.50,145.58 L228.25,144.74 L228.00,144.62 L227.75,144.90 L227.50,144.95 L227.25,145.00 L227.00,145.05 L226.75,145.04 L226.50,145.28 L226.25,145.51 L226.00,145.75 L225.75,145.41 L225.50,145.07 L225.25,144.74 L225.00,144.65 L224.75,144.65 L224.50,144.65 L224.25,144.65 L224.00,144.65 L223.75,144.65 L223.50,144.65 L223.25,144.65 L223.00,144.65 L222.75,144.79 L222.50,144.93 L222.25,145.06 L222.00,145.20 L221.75,145.06 L221.50,144.93 L221.25,144.79 L221.00,144.65 L220.75,144.70 L220.50,144.75 L220.25,144.80 L220.00,144.85 L219.75,144.80 L219.50,144.75 L219.25,144.70 L219.00,144.65 L218.75,144.68 L218.50,144.70 L218.25,144.72 L218.00,144.75 L217.75,144.83 L217.50,145.14 L217.25,145.44 L217.00,145.75 L216.75,145.49 L216.50,145.24 L216.25,144.98 L216.00,144.95 L215.75,144.88 L215.50,144.80 L215.25,144.73 L215.00,144.65 L214.75,144.75 L214.50,144.85 L214.25,144.95 L214.00,145.05 L213.75,144.95 L213.50,144.85 L213.25,144.75 L213.00,144.65 L212.75,144.73 L212.50,144.80 L212.25,144.88 L212.00,144.95 L211.75,144.88 L211.50,144.80 L211.25,144.73 L211.00,144.65 L210.75,144.65 L210.50,144.65 L210.25,144.65 L210.00,144.65 L209.75,144.79 L209.50,144.93 L209.25,145.06 L209.00,145.20 L208.75,145.14 L208.50,145.08 L208.25,145.01 L208.00,144.95 L207.75,144.88 L207.50,144.80 L207.25,144.73 L207.00,144.65 L206.75,144.79 L206.50,144.93 L206.25,145.06 L206.00,145.20 L205.75,145.06 L205.50,144.93 L205.25,144.79 L205.00,144.65 L204.75,144.65 L204.50,144.65 L204.25,144.65 L204.00,144.65 L203.75,144.68 L203.50,144.70 L203.25,144.72 L203.00,144.75 L202.75,144.78 L202.50,144.80 L202.25,144.82 L202.00,144.85 L201.75,144.80 L201.50,144.75 L201.25,144.70 L201.00,144.65 L200.75,144.70 L200.50,144.75 L200.25,144.80 L200.00,144.85 L199.75,144.80 L199.50,144.75 L199.25,144.70 L199.00,144.65 L198.75,144.75 L198.50,144.85 L198.25,144.95 L198.00,145.05 L197.75,144.98 L197.50,144.90 L197.25,144.82 L197.00,144.75 L196.75,144.75 L196.50,144.75 L196.25,144.75 L196.00,144.75 L195.75,144.75 L195.50,144.75 L195.25,144.75 L195.00,144.75 L194.75,144.80 L194.50,144.85 L194.25,144.90 L194.00,144.95 L193.75,145.01 L193.50,145.08 L193.25,145.14 L193.00,145.20 L192.75,145.06 L192.50,144.93 L192.25,144.79 L192.00,144.65 L191.75,144.65 L191.50,144.65 L191.25,144.65 L191.00,144.65 L190.75,144.70 L190.50,144.95 L190.25,145.20 L190.00,145.45 L189.75,145.20 L189.50,144.95 L189.25,144.70 L189.00,144.65 L188.75,144.65 L188.50,144.65 L188.25,144.65 L188.00,144.65 L187.75,144.65 L187.50,144.65 L187.25,144.65 L187.00,144.65 L186.75,144.65 L186.50,144.65 L186.25,144.65 L186.00,144.65 L185.75,144.70 L185.50,144.75 L185.25,144.80 L185.00,144.85 L184.75,144.82 L184.50,144.80 L184.25,144.78 L184.00,144.75 L183.75,144.86 L183.50,144.98 L183.25,145.09 L183.00,145.20 L182.75,145.20 L182.50,145.20 L182.25,145.20 L182.00,145.20 L181.75,145.06 L181.50,144.93 L181.25,144.79 L181.00,144.65 L180.75,144.65 L180.50,144.65 L180.25,144.65 L180.00,144.65 L179.75,144.70 L179.50,144.75 L179.25,144.80 L179.00,144.85 L178.75,144.80 L178.50,144.75 L178.25,144.70 L178.00,144.65 L177.75,144.74 L177.50,144.97 L177.25,145.21 L177.00,145.45 L176.75,145.26 L176.50,145.07 L176.25,144.89 L176.00,144.85 L175.75,144.88 L175.50,144.90 L175.25,144.93 L175.00,144.95 L174.75,144.90 L174.50,144.85 L174.25,144.80 L174.00,144.75 L173.75,144.82 L173.50,144.90 L173.25,144.98 L173.00,145.05 L172.75,144.95 L172.50,144.85 L172.25,144.75 L172.00,144.65 L171.75,144.70 L171.50,144.75 L171.25,144.80 L171.00,144.85 L170.75,144.88 L170.50,144.90 L170.25,144.93 L170.00,144.95 L169.75,144.88 L169.50,144.80 L169.25,144.73 L169.00,144.65 L168.75,144.65 L168.50,144.65 L168.25,144.65 L168.00,144.65 L167.75,144.65 L167.50,144.65 L167.25,144.65 L167.00,144.65 L166.75,144.70 L166.50,144.75 L166.25,144.80 L166.00,144.85 L165.75,144.80 L165.50,144.75 L165.25,144.70 L165.00,144.65 L164.75,144.79 L164.50,144.93 L164.25,145.06 L164.00,145.20 L163.75,145.06 L163.50,144.93 L163.25,144.79 L163.00,144.65 L162.75,144.79 L162.50,144.93 L162.25,145.06 L162.00,145.20 L161.75,145.16 L161.50,145.12 L161.25,145.09 L161.00,145.05 L160.75,144.95 L160.50,144.85 L160.25,144.75 L160.00,144.65 L159.75,144.70 L159.50,144.75 L159.25,144.80 L159.00,144.85 L158.75,144.88 L158.50,144.90 L158.25,144.93 L158.00,144.95 L157.75,144.93 L157.50,144.90 L157.25,144.88 L157.00,144.85 L156.75,144.90 L156.50,144.95 L156.25,145.00 L156.00,145.05 L155.75,145.05 L155.50,145.05 L155.25,145.05 L155.00,145.05 L154.75,145.05 L154.50,145.05 L154.25,145.05 L154.00,145.05 L153.75,145.05 L153.50,145.05 L153.25,145.05 L153.00,145.05 L152.75,145.03 L152.50,145.00 L152.25,144.98 L152.00,144.95 L151.75,144.95 L151.50,144.95 L151.25,144.95 L151.00,144.95 L150.75,144.88 L150.50,144.80 L150.25,144.73 L150.00,144.65 L149.75,144.73 L149.50,144.80 L149.25,144.88 L149.00,144.95 L148.75,144.90 L148.50,144.85 L148.25,144.80 L148.00,144.75 L147.75,144.86 L147.50,144.98 L147.25,145.09 L147.00,145.20 L146.75,145.11 L146.50,145.03 L146.25,144.94 L146.00,144.85 L145.75,144.80 L145.50,144.75 L145.25,144.70 L145.00,144.65 L144.75,144.65 L144.50,144.65 L144.25,144.65 L144.00,144.65 L143.75,144.75 L143.50,144.85 L143.25,144.95 L143.00,145.05 L142.75,145.09 L142.50,145.12 L142.25,145.16 L142.00,145.20 L141.75,145.06 L141.50,144.93 L141.25,144.79 L141.00,144.65 L140.75,144.65 L140.50,144.65 L140.25,144.65 L140.00,144.65 L139.75,144.79 L139.50,144.93 L139.25,145.06 L139.00,145.20 L138.75,145.16 L138.50,145.12 L138.25,145.09 L138.00,145.05 L137.75,145.05 L137.50,145.05 L137.25,145.05 L137.00,145.05 L136.75,144.95 L136.50,144.85 L136.25,144.75 L136.00,144.65 L135.75,144.73 L135.50,144.80 L135.25,144.88 L135.00,144.95 L134.75,144.88 L134.50,144.80 L134.25,144.73 L134.00,144.65 L133.75,144.70 L133.50,144.75 L133.25,144.84 L133.00,145.11 L132.75,145.38 L132.50,145.65 L132.25,145.48 L132.00,145.31 L131.75,144.99 L131.50,144.85 L131.25,144.75 L131.00,144.65 L130.75,144.70 L130.50,144.75 L130.25,144.80 L130.00,144.85 L129.75,144.82 L129.50,144.80 L129.25,144.78 L129.00,144.75 L128.75,144.72 L128.50,144.70 L128.25,144.68 L128.00,144.65 L127.75,144.79 L127.50,144.93 L127.25,145.06 L127.00,145.20 L126.75,145.20 L126.50,145.20 L126.25,145.20 L126.00,145.20 L125.75,145.20 L125.50,145.20 L125.25,145.20 L125.00,145.20 L124.75,145.16 L124.50,145.12 L124.25,145.09 L124.00,145.05 L123.75,145.00 L123.50,144.95 L123.25,144.90 L123.00,144.85 L122.75,144.85 L122.50,145.05 L122.25,145.25 L122.00,145.45 L121.75,145.23 L121.50,145.00 L121.25,144.78 L121.00,144.75 L120.75,144.82 L120.50,144.90 L120.25,144.98 L120.00,145.05 L119.75,145.05 L119.50,145.05 L119.25,145.05 L119.00,145.05 L118.75,145.09 L118.50,145.12 L118.25,145.16 L118.00,145.20 L117.75,145.16 L117.50,145.12 L117.25,145.09 L117.00,145.05 L116.75,145.05 L116.50,145.05 L116.25,145.05 L116.00,145.05 L115.75,144.98 L115.50,144.90 L115.25,144.82 L115.00,144.75 L114.75,144.75 L114.50,144.75 L114.25,144.75 L114.00,144.75 L113.75,144.86 L113.50,144.98 L113.25,145.09 L113.00,145.20 L112.75,145.09 L112.50,144.98 L112.25,144.86 L112.00,144.75 L111.75,144.72 L111.50,144.70 L111.25,144.68 L111.00,144.65 L110.75,144.70 L110.50,144.75 L110.25,144.80 L110.00,144.85 L109.75,144.85 L109.50,144.85 L109.25,144.85 L109.00,144.85 L108.75,144.82 L108.50,144.80 L108.25,144.78 L108.00,144.75 L107.75,144.82 L107.50,144.90 L107.25,144.98 L107.00,145.05 L106.75,144.98 L106.50,144.90 L106.25,144.82 L106.00,144.75 L105.75,144.82 L105.50,144.90 L105.25,144.98 L105.00,145.05 L104.75,145.00 L104.50,144.95 L104.25,144.90 L104.00,144.85 L103.75,144.85 L103.50,144.85 L103.25,144.85 L103.00,144.85 L102.75,144.94 L102.50,145.03 L102.25,145.11 L102.00,145.20 L101.75,145.06 L101.50,144.93 L101.25,144.79 L101.00,144.65 L100.75,144.79 L100.50,144.93 L100.25,145.06 L100.00,145.20 L99.75,145.06 L99.50,144.93 L99.25,144.79 L99.00,144.65 L98.75,144.65 L98.50,144.65 L98.25,144.65 L98.00,144.65 L97.75,144.73 L97.50,144.80 L97.25,144.88 L97.00,144.95 L96.75,144.98 L96.50,145.00 L96.25,145.03 L96.00,145.05 L95.75,144.95 L95.50,144.85 L95.25,144.75 L95.00,144.65 L94.75,144.75 L94.50,144.85 L94.25,144.95 L94.00,145.05 L93.75,145.09 L93.50,145.12 L93.25,145.16 L93.00,145.20 L92.75,145.16 L92.50,145.12 L92.25,145.09 L92.00,145.05 L91.75,145.00 L91.50,144.95 L91.25,144.90 L91.00,144.85 L90.75,144.85 L90.50,144.85 L90.25,144.85 L90.00,144.85 L89.75,144.82 L89.50,144.80 L89.25,144.78 L89.00,144.75 L88.75,144.72 L88.50,144.70 L88.25,144.68 L88.00,144.65 L87.75,144.70 L87.50,144.75 L87.25,144.80 L87.00,144.85 L86.75,144.88 L86.50,144.90 L86.25,144.93 L86.00,144.95 L85.75,144.95 L85.50,144.95 L85.25,144.95 L85.00,144.95 L84.75,144.90 L84.50,144.85 L84.25,144.80 L84.00,144.75 L83.75,144.86 L83.50,144.98 L83.25,145.09 L83.00,145.20 L82.75,145.06 L82.50,144.93 L82.25,144.79 L82.00,144.65 L81.75,144.65 L81.50,144.65 L81.25,144.65 L81.00,144.65 L80.75,144.65 L80.50,144.65 L80.25,144.65 L80.00,144.65 Z" fill="#1f77b4" stroke="#1f77b4" stroke-width="0.3" stroke-linejoin="round"/></g>
<g clip-path="url(#c2)"><path d="M80.00,358.75 L86.44,378.10 L92.89,397.50 L99.33,370.00 L105.77,353.75 L112.21,361.90 L118.66,352.10 L125.10,354.10 L131.54,351.60 L137.98,352.75 L144.43,345.00 L150.87,320.00 L157.31,307.10 L163.75,310.60 L170.20,331.90 L176.64,342.00 L183.08,304.40 L189.52,279.20 L195.97,326.00 L202.41,329.90 L208.85,312.60 L215.29,383.40 L221.74,366.25 L228.18,339.10 L234.62,345.60 L241.06,355.00 L247.51,353.40 L253.95,366.00 L260.39,368.10 L266.84,373.10 L273.28,375.25 L279.72,384.00 L286.16,384.00 L292.61,400.70 L299.05,380.00 L305.49,332.00 L311.93,336.50 L318.38,356.25 L324.82,369.75 L331.26,369.40 L337.70,376.00 L344.15,376.00 L350.59,366.00 L357.03,367.90 L363.47,382.50 L369.92,390.80 L376.36,362.75 L382.80,358.50 L389.24,365.50 L395.69,368.10 L402.13,373.10 L408.57,378.10 L415.02,377.10 L421.46,380.60 L427.90,390.80 L434.34,395.80 L440.79,403.10 L447.23,408.10 L453.67,366.00 L460.11,343.10 L466.56,332.50 L473.00,332.00 L479.44,339.40 L485.88,345.60 L492.33,351.90 L498.77,357.90 L505.21,359.00 L511.65,361.90 L518.10,388.10 L524.54,379.40 L530.98,358.10 L537.42,365.40 L543.87,360.90 L550.31,365.00 L556.75,367.75 L563.19,367.75 L569.64,367.50 L576.08,376.25" fill="none" stroke="#1f77b4" stroke-width="2.08" stroke-linejoin="round" stroke-linecap="butt"/></g>
<g fill="#000">
<rect x="80" y="58" width="497" height="1"/><rect x="80" y="226" width="497" height="1"/><rect x="80" y="58" width="1" height="169"/><rect x="576" y="58" width="1" height="169"/>
<rect x="80" y="259" width="497" height="1"/><rect x="80" y="427" width="497" height="1"/><rect x="80" y="259" width="1" height="169"/><rect x="576" y="259" width="1" height="169"/>
<rect x="80" y="227" width="1" height="4.6"/><rect x="80" y="428" width="1" height="4.6"/><rect x="181" y="227" width="1" height="4.6"/><rect x="181" y="428" width="1" height="4.6"/><rect x="281" y="227" width="1" height="4.6"/><rect x="281" y="428" width="1" height="4.6"/><rect x="382" y="227" width="1" height="4.6"/><rect x="382" y="428" width="1" height="4.6"/><rect x="483" y="227" width="1" height="4.6"/><rect x="483" y="428" width="1" height="4.6"/>
<rect x="75.3" y="89" width="4.7" height="1"/><rect x="75.3" y="142" width="4.7" height="1"/><rect x="75.3" y="196" width="4.7" height="1"/><rect x="75.3" y="282" width="4.7" height="1"/><rect x="75.3" y="324" width="4.7" height="1"/><rect x="75.3" y="366" width="4.7" height="1"/><rect x="75.3" y="408" width="4.7" height="1"/>
</g>
<g class="t">
<text transform="translate(49.4,94.0) scale(1.02,1)" text-anchor="start" style="letter-spacing:0.45px">0.5</text><text transform="translate(49.4,148.0) scale(1.02,1)" text-anchor="start" style="letter-spacing:0.45px">0.0</text><text transform="translate(48.2,201.0) scale(1.02,1)" text-anchor="start" style="letter-spacing:0.45px">0.5</text><text transform="translate(32.35,288.0) scale(1.02,1)" text-anchor="start" style="letter-spacing:0.45px">0.035</text><text transform="translate(32.35,330.0) scale(1.02,1)" text-anchor="start" style="letter-spacing:0.45px">0.030</text><text transform="translate(32.35,371.0) scale(1.02,1)" text-anchor="start" style="letter-spacing:0.45px">0.025</text><text transform="translate(32.35,413.0) scale(1.02,1)" text-anchor="start" style="letter-spacing:0.45px">0.020</text><rect x="38.2" y="195.75" width="8.7" height="1.2" fill="#000"/><text transform="translate(70.3,448.0) scale(1.02,1)" text-anchor="start" style="letter-spacing:0.45px">0.0</text><text transform="translate(171.4,448.0) scale(1.02,1)" text-anchor="start" style="letter-spacing:0.45px">0.5</text><text transform="translate(271.6,448.0) scale(1.02,1)" text-anchor="start" style="letter-spacing:0.45px">1.0</text><text transform="translate(372.6,448.0) scale(1.02,1)" text-anchor="start" style="letter-spacing:0.45px">1.5</text><text transform="translate(472.5,448.0) scale(1.02,1)" text-anchor="start" style="letter-spacing:0.45px">2.0</text>
</g>
<rect x="456.3" y="266.4" width="113.2" height="25.2" rx="2.8" ry="2.8" fill="#fff" fill-opacity="0.8" stroke="#ccc" stroke-width="1.2"/>
<path d="M460.06,277.7 L489.94,277.7" stroke="#1f77b4" stroke-width="2.08" fill="none"/>
<g class="t"><text transform="translate(501.6,282.9) scale(1.02,1)" text-anchor="start" style="letter-spacing:0.36px">decrease</text></g>
</svg>
</body></html>
